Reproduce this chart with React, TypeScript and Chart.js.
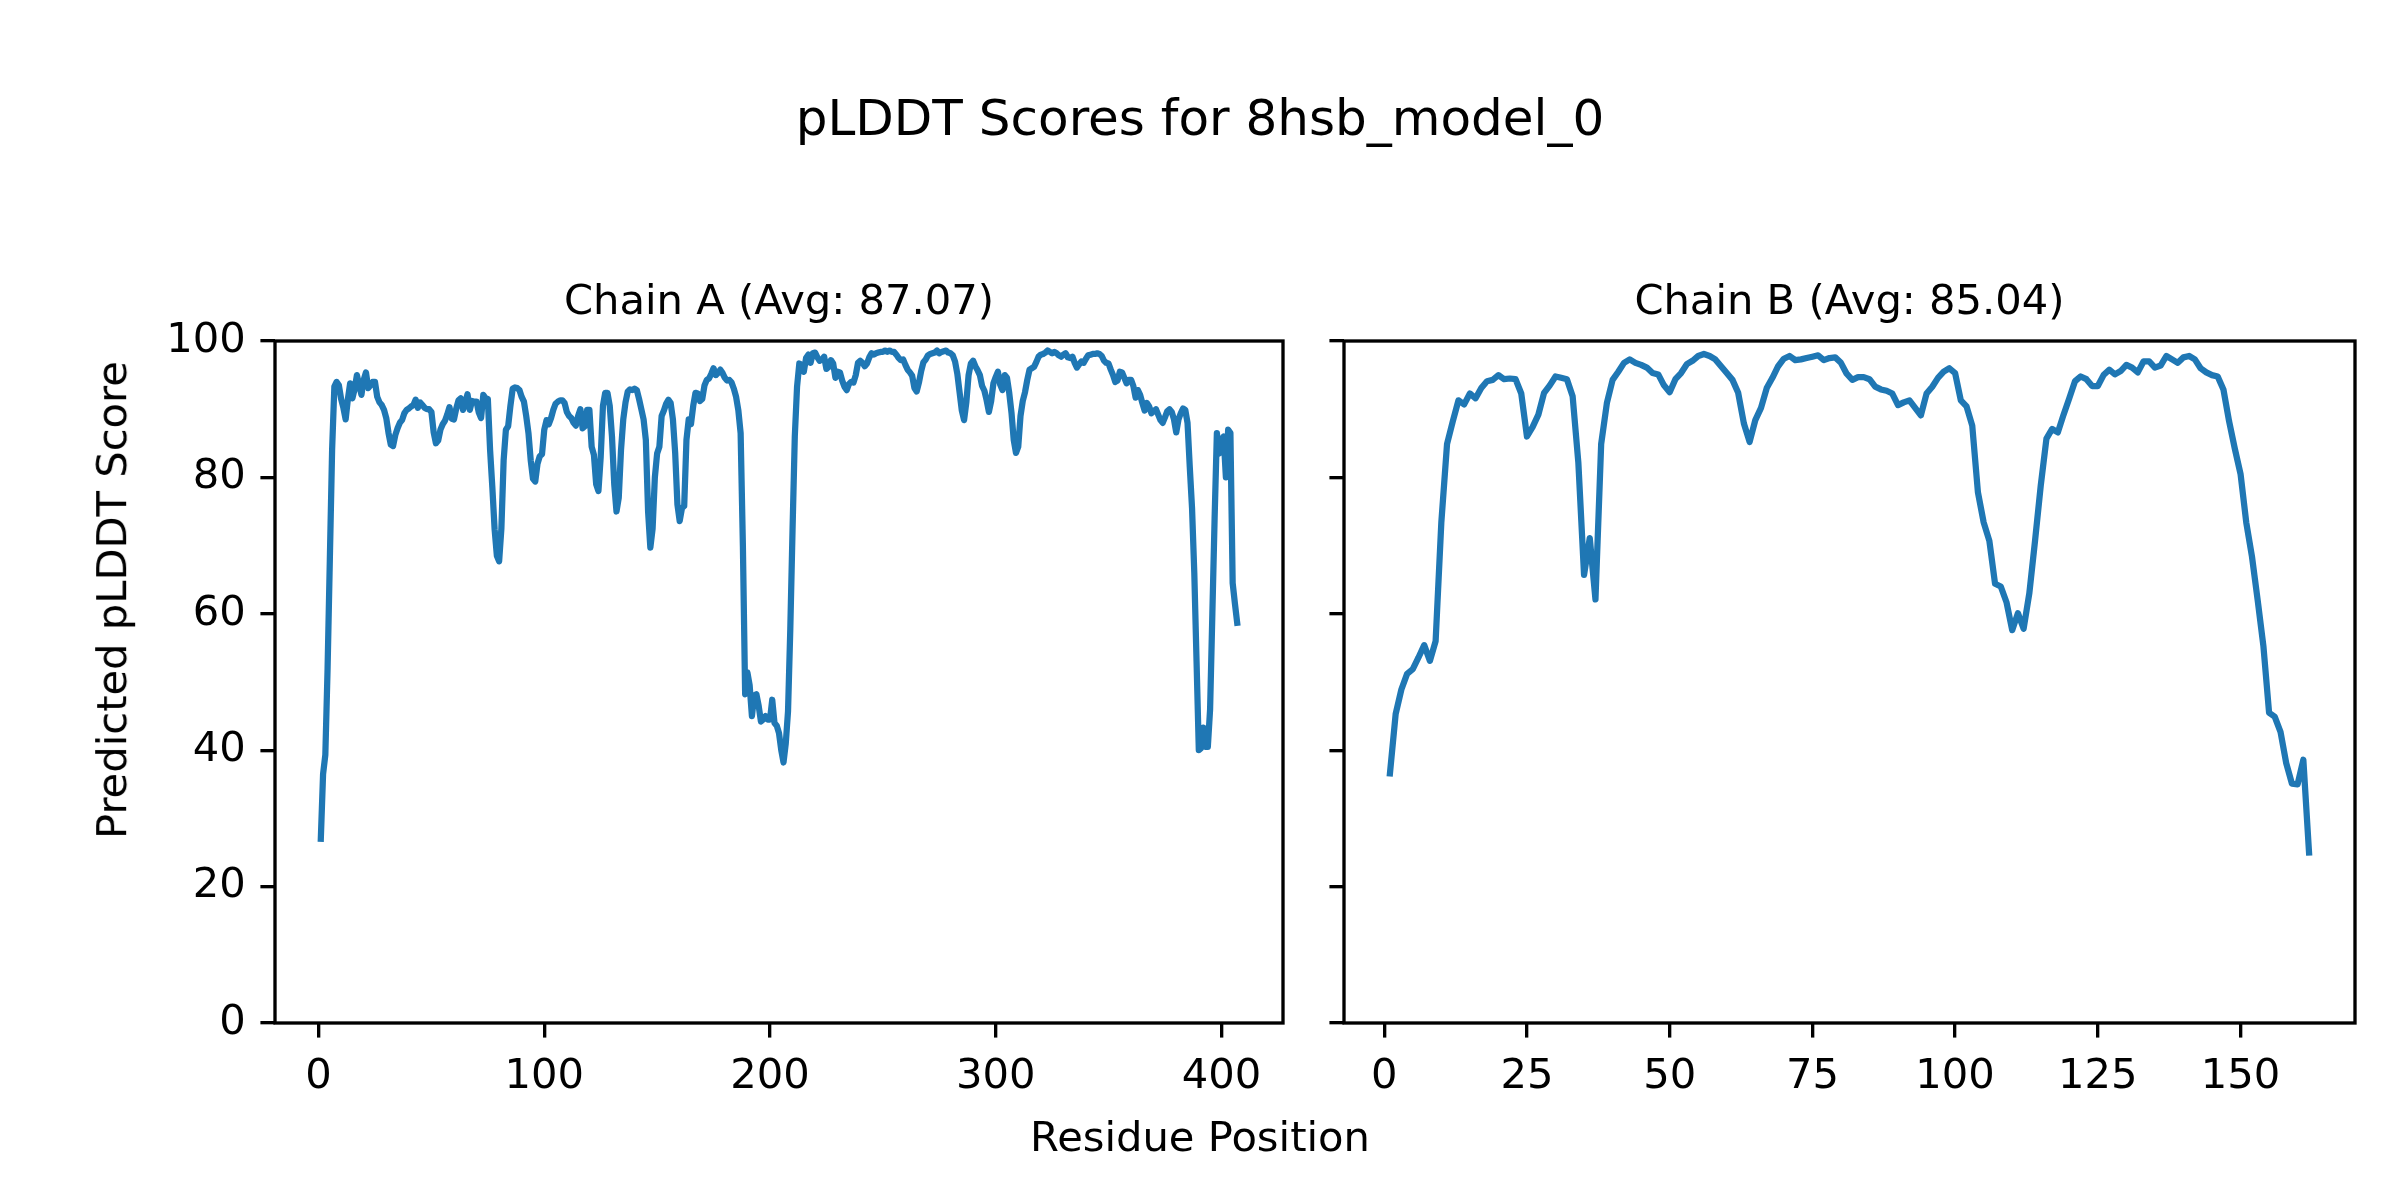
import React, { useEffect, useRef } from 'react';
import { Chart, registerables } from 'chart.js';

Chart.register(...registerables);

// ---------------- data ----------------
const figureTitle = 'pLDDT Scores for 8hsb_model_0';
const xAxisLabel = 'Residue Position';
const yAxisLabel = 'Predicted pLDDT Score';
const chainATitle = 'Chain A (Avg: 87.07)';
const chainBTitle = 'Chain B (Avg: 85.04)';

const chainAScores = [
  27.0, 36.5, 39.3, 52.0, 68.0, 84.0, 93.3, 94.0, 93.5, 91.5,
  90.2, 88.5, 91.5, 93.8, 91.6, 93.0, 95.0, 93.5, 92.1, 94.3,
  95.4, 93.1, 93.5, 94.0, 94.0, 91.8, 91.0, 90.6, 89.9, 88.7,
  86.5, 84.8, 84.6, 86.2, 87.2, 88.0, 88.4, 89.4, 89.9, 90.1,
  90.4, 90.6, 91.4, 90.2, 91.0, 90.6, 90.2, 90.0, 90.0, 89.6,
  86.6, 85.0, 85.4, 87.0, 87.8, 88.3, 89.2, 90.3, 88.6, 88.5,
  90.1, 91.3, 91.6, 89.9, 91.0, 92.2, 89.9, 91.2, 91.1, 91.1,
  89.5, 88.7, 92.1, 91.6, 91.5, 84.0, 78.5, 72.4, 68.5, 67.7,
  72.5, 82.5, 87.0, 87.5, 90.5, 93.0, 93.2, 93.1, 92.8, 91.8,
  91.1, 89.0, 86.5, 82.5, 79.8, 79.4, 82.0, 83.1, 83.4, 87.0,
  88.4, 87.8, 88.7, 89.9, 90.8, 91.1, 91.3, 91.3, 90.9, 89.6,
  89.0, 88.7, 88.0, 87.6, 89.0, 90.0, 87.2, 87.5, 89.9, 89.9,
  84.5, 83.3, 79.0, 78.0, 83.0, 90.5, 92.4, 92.4, 90.5, 86.0,
  79.0, 75.0, 77.0, 84.0, 88.5, 91.0, 92.6, 92.9, 92.8, 93.0,
  92.8, 91.5, 90.0, 88.5, 85.5, 75.0, 69.7, 72.5, 80.0, 83.5,
  84.5, 89.0, 89.8, 90.8, 91.4, 90.9, 88.5, 83.6, 76.0, 73.6,
  75.5, 75.8, 85.5, 88.5, 87.8, 90.5, 92.4, 92.3, 91.2, 91.5,
  93.5, 94.3, 94.5, 95.2, 96.0, 95.0, 95.3, 95.8, 95.3, 94.6,
  94.2, 94.3, 93.9, 93.0, 91.8, 89.8, 86.5, 70.0, 48.2, 51.4,
  49.5, 45.0, 48.0, 48.2, 46.5, 44.2, 44.5, 45.0, 44.5, 44.5,
  47.4, 44.0, 43.6, 42.5, 40.0, 38.2, 41.0, 45.7, 57.7, 72.3,
  86.0, 93.3, 96.7, 96.5, 95.5, 97.5, 98.0, 96.8, 98.2, 98.3,
  97.6, 97.1, 97.3, 97.7, 95.9, 96.2, 97.2, 96.7, 94.6, 95.5,
  95.4, 94.2, 93.3, 92.8, 93.7, 94.0, 93.9, 95.0, 96.8, 97.1,
  96.8, 96.3, 96.7, 97.6, 98.2, 98.0, 98.2, 98.3, 98.4, 98.4,
  98.6, 98.4, 98.6, 98.4, 98.4, 98.0, 97.5, 97.2, 97.3, 96.5,
  95.8, 95.4, 94.9, 93.1, 92.6, 93.9, 95.6, 96.9, 97.3, 97.9,
  98.1, 98.2, 98.3, 98.6, 98.2, 98.4, 98.5, 98.6, 98.3, 98.2,
  97.9, 97.0, 95.2, 92.5, 89.8, 88.4, 91.0, 95.0, 96.7, 97.1,
  96.3, 95.7, 95.0, 93.4, 92.7, 91.3, 89.6, 91.2, 93.8, 94.7,
  95.5, 93.6, 92.8, 95.0, 94.6, 92.4, 89.5, 85.5, 83.6, 84.5,
  89.0, 91.2, 92.5, 94.3, 95.8, 96.0, 96.2, 96.9, 97.7, 98.0,
  98.1, 98.3, 98.6, 98.4, 98.2, 98.4, 98.2, 97.9, 97.7, 98.0,
  98.2, 97.6, 97.5, 97.7, 96.8, 96.1, 96.6, 97.0, 96.8, 97.4,
  97.9, 98.0, 98.1, 98.1, 98.2, 98.1, 97.8, 97.1, 96.8, 96.7,
  95.8, 95.0, 94.0, 94.2, 95.5, 95.4, 94.6, 93.8, 94.3, 94.3,
  93.4, 91.7, 92.8, 92.1, 90.9, 89.8, 90.9, 90.4, 89.4, 89.7,
  90.0, 89.2, 88.4, 88.0, 88.8, 89.7, 90.0, 89.6, 88.5, 86.6,
  88.5, 89.4, 90.1, 89.9, 88.0, 81.5, 75.5, 66.0, 53.0, 40.0,
  40.3, 43.3, 40.5, 40.5, 46.0, 60.0, 74.0, 86.5, 83.5, 85.5,
  86.0, 80.0, 87.0, 86.5, 64.5, 61.5, 58.7,
];

const chainBScores = [
  36.6, 45.3, 48.9, 51.2, 51.9, 53.6, 55.4, 53.1, 56.0, 73.4,
  84.9, 88.2, 91.3, 90.7, 92.3, 91.6, 93.1, 94.1, 94.3, 95.0,
  94.4, 94.5, 94.4, 92.3, 86.0, 87.4, 89.2, 92.4, 93.5, 94.8,
  94.6, 94.4, 91.9, 82.2, 65.7, 71.1, 62.1, 84.9, 90.9, 94.3,
  95.5, 96.8, 97.3, 96.8, 96.5, 96.1, 95.3, 95.1, 93.5, 92.5,
  94.4, 95.3, 96.6, 97.1, 97.8, 98.1, 97.8, 97.3, 96.3, 95.3,
  94.3, 92.4, 87.9, 85.2, 88.4, 90.2, 93.1, 94.6, 96.3, 97.4,
  97.8, 97.2, 97.3, 97.5, 97.7, 97.9, 97.2, 97.5, 97.6, 96.8,
  95.2, 94.3, 94.7, 94.7, 94.4, 93.3, 92.9, 92.7, 92.3, 90.6,
  91.0, 91.3, 90.2, 89.1, 92.3, 93.3, 94.6, 95.5, 96.0, 95.3,
  91.3, 90.4, 87.6, 77.8, 73.4, 70.7, 64.4, 64.0, 61.7, 57.6,
  60.1, 57.8, 63.0, 70.7, 78.8, 85.7, 87.1, 86.6, 89.2, 91.6,
  94.1, 94.8, 94.4, 93.4, 93.4, 95.0, 95.8, 95.1, 95.6, 96.5,
  96.1, 95.4, 97.0, 97.0, 96.1, 96.4, 97.8, 97.3, 96.8, 97.6,
  97.8, 97.3, 96.0, 95.4, 95.0, 94.8, 92.9, 88.2, 84.2, 80.5,
  73.4, 68.4, 62.0, 55.3, 45.5, 44.9, 42.7, 38.1, 35.1, 35.0,
  38.6, 25.0,
];

const chainAXTicks = [0, 100, 200, 300, 400];
const chainBXTicks = [0, 25, 50, 75, 100, 125, 150];
const yTicks = [0, 20, 40, 60, 80, 100];

// ---------------- styling ----------------
const W = 2400;
const H = 1200;
const PT = 300 / 72;
const FONT = "'DejaVu Sans', 'Liberation Sans', sans-serif";
const TICK_FONT = 10 * PT;
const TITLE_FONT = 10 * PT;
const SUPTITLE_FONT = 12 * PT;
const LABEL_FONT = 10 * PT;
const SPINE_W = 0.8 * PT;
const TICK_LEN = 3.5 * PT;
const TICK_PAD = 3.5 * PT;
const LINE_W = 1.5 * PT;
const LINE_COLOR = '#1f77b4';
const Y_AXIS_W = 150;
const X_AXIS_H = 100;

const areaA = { left: 275, right: 1283, top: 341, bottom: 1023 };
const areaB = { left: 1344, right: 2355, top: 341, bottom: 1023 };
const TITLE_CENTER_Y = 303;

const spinesPlugin = {
  id: 'spines',
  afterDraw(chart: any) {
    const { ctx, chartArea } = chart;
    ctx.save();
    ctx.strokeStyle = '#000';
    ctx.lineWidth = SPINE_W;
    ctx.strokeRect(
      chartArea.left,
      chartArea.top,
      chartArea.right - chartArea.left,
      chartArea.bottom - chartArea.top
    );
    ctx.restore();
  },
};

function makeConfig(
  scores: number[],
  xTicks: number[],
  title: string,
  area: { left: number; right: number; top: number; bottom: number },
  showYLabels: boolean
): any {
  const points = scores.map((v, i) => ({ x: i + 1, y: v }));
  const first = 1;
  const last = scores.length;
  const margin = (last - first) * 0.05;
  const titleBoxH = TITLE_FONT * 1.2;
  const titleTop = TITLE_CENTER_Y - titleBoxH / 2;
  const titleGap = area.top - titleTop - titleBoxH;
  return {
    type: 'line',
    data: {
      datasets: [
        {
          data: points,
          borderColor: LINE_COLOR,
          borderWidth: LINE_W,
          pointRadius: 0,
          tension: 0,
          fill: false,
          borderJoinStyle: 'round',
          borderCapStyle: 'square',
        },
      ],
    },
    options: {
      responsive: false,
      animation: false,
      devicePixelRatio: 1,
      layout: {
        padding: {
          left: area.left - Y_AXIS_W,
          right: W - area.right,
          top: titleTop,
          bottom: H - area.bottom - X_AXIS_H,
        },
      },
      plugins: {
        legend: { display: false },
        tooltip: { enabled: false },
        title: {
          display: true,
          text: title,
          fullSize: false,
          color: '#000',
          font: { family: FONT, size: TITLE_FONT, weight: 'normal', lineHeight: 1.2 },
          padding: { top: 0, bottom: titleGap },
        },
      },
      scales: {
        x: {
          type: 'linear',
          min: first - margin,
          max: last + margin,
          afterBuildTicks: (s: any) => {
            s.ticks = xTicks.map((v) => ({ value: v }));
          },
          afterFit: (s: any) => {
            s.height = X_AXIS_H;
          },
          grid: {
            drawOnChartArea: false,
            drawTicks: true,
            tickLength: TICK_LEN,
            lineWidth: SPINE_W,
            color: '#000',
          },
          border: { display: false },
          ticks: {
            padding: TICK_PAD,
            color: '#000',
            font: { family: FONT, size: TICK_FONT },
            maxRotation: 0,
            autoSkip: false,
          },
        },
        y: {
          type: 'linear',
          min: 0,
          max: 100,
          afterBuildTicks: (s: any) => {
            s.ticks = yTicks.map((v) => ({ value: v }));
          },
          afterFit: (s: any) => {
            s.width = Y_AXIS_W;
          },
          grid: {
            drawOnChartArea: false,
            drawTicks: true,
            tickLength: TICK_LEN,
            lineWidth: SPINE_W,
            color: '#000',
          },
          border: { display: false },
          ticks: {
            display: showYLabels,
            padding: TICK_PAD,
            color: '#000',
            font: { family: FONT, size: TICK_FONT },
            autoSkip: false,
          },
        },
      },
    },
    plugins: [spinesPlugin],
  };
}

export default function App() {
  const refA = useRef<HTMLCanvasElement | null>(null);
  const refB = useRef<HTMLCanvasElement | null>(null);

  useEffect(() => {
    document.body.style.margin = '0';
    const charts: Chart[] = [];
    if (refA.current) {
      charts.push(new Chart(refA.current, makeConfig(chainAScores, chainAXTicks, chainATitle, areaA, true)));
    }
    if (refB.current) {
      charts.push(new Chart(refB.current, makeConfig(chainBScores, chainBXTicks, chainBTitle, areaB, false)));
    }
    return () => {
      charts.forEach((c) => c.destroy());
    };
  }, []);

  const canvasStyle: React.CSSProperties = {
    position: 'absolute',
    left: 0,
    top: 0,
    width: W + 'px',
    height: H + 'px',
  };
  const textBase: React.CSSProperties = {
    position: 'absolute',
    fontFamily: FONT,
    color: '#000',
    whiteSpace: 'nowrap',
    lineHeight: 1,
  };

  return (
    <div style={{ position: 'relative', width: W, height: H, background: '#fff', overflow: 'hidden' }}>
      <canvas ref={refA} width={W} height={H} style={canvasStyle} />
      <canvas ref={refB} width={W} height={H} style={canvasStyle} />
      <div
        style={{
          ...textBase,
          left: 1200,
          top: 118,
          fontSize: SUPTITLE_FONT,
          transform: 'translate(-50%, -50%)',
        }}
      >
        {figureTitle}
      </div>
      <div
        style={{
          ...textBase,
          left: 1200,
          top: 1137,
          fontSize: LABEL_FONT,
          transform: 'translate(-50%, -50%)',
        }}
      >
        {xAxisLabel}
      </div>
      <div
        style={{
          ...textBase,
          left: 112,
          top: 600,
          fontSize: LABEL_FONT,
          transform: 'translate(-50%, -50%) rotate(-90deg)',
        }}
      >
        {yAxisLabel}
      </div>
    </div>
  );
}
